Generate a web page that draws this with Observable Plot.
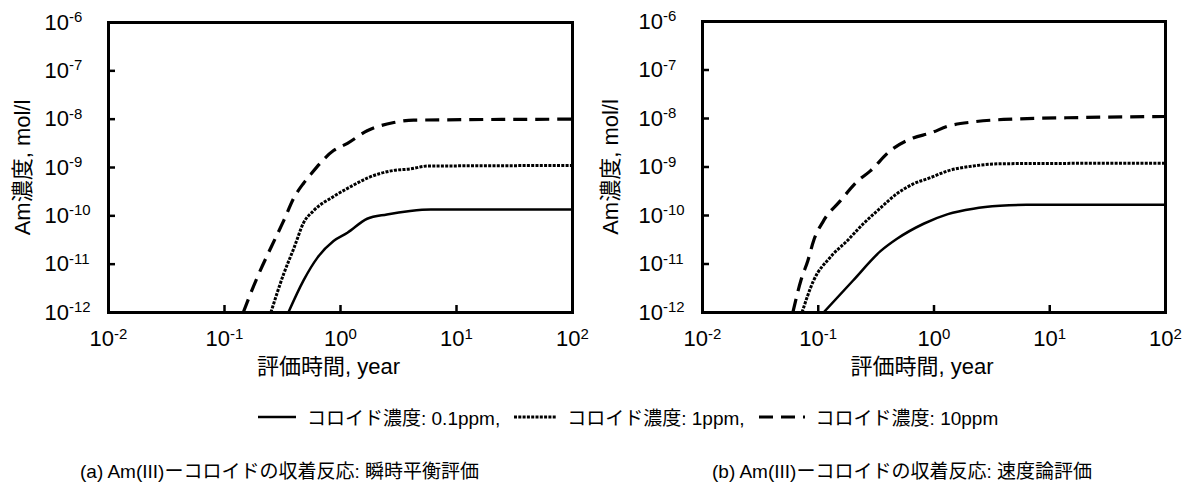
<!DOCTYPE html>
<html>
<head>
<meta charset="utf-8">
<script src="https://cdn.jsdelivr.net/npm/d3@7"></script>
<script src="https://cdn.jsdelivr.net/npm/@observablehq/plot@0.6"></script>
<style>
  html, body { margin: 0; padding: 0; background: #fff; }
  body { font-family: "Liberation Sans", "Noto Sans CJK JP", sans-serif; color: #000; }
  #wrap { position: relative; width: 1192px; height: 494px; overflow: hidden; }
  .panel { position: absolute; top: 0; }
  #legend { position: absolute; top: 403px; left: 258px; display: flex; align-items: center; font-size: 19px; white-space: nowrap; }
  #legend svg { display: block; }
  #legend .sw { margin-right: 11px; }
  #legend .lab { margin-right: 14px; }
  .cap { position: absolute; top: 456px; font-size: 19px; white-space: nowrap; }
</style>
</head>
<body>
<div id="wrap">
  <div id="panelA" class="panel" style="left:0"></div>
  <div id="panelB" class="panel" style="left:596px"></div>
  <div id="legend"></div>
  <div class="cap" id="capA" style="left:80px"></div>
  <div class="cap" id="capB" style="left:712px"></div>
</div>
<script>
// Axis ticks (decades)
const xTicks = [1e-2, 1e-1, 1e0, 1e1, 1e2];
const yTicks = [1e-12, 1e-11, 1e-10, 1e-9, 1e-8, 1e-7, 1e-6];

// Texts
const xTitle = "評価時間, year";
const yTitle = "Am濃度, mol/l";
const seriesNames = ["コロイド濃度: 0.1ppm,", "コロイド濃度: 1ppm,", "コロイド濃度: 10ppm"];
const captionA = "(a) Am(III)ーコロイドの収着反応: 瞬時平衡評価";
const captionB = "(b) Am(III)ーコロイドの収着反応: 速度論評価";

// (a) instantaneous equilibrium: time [year] and Am concentration [mol/l]
const timeA01 = [0.355, 0.479, 0.631, 0.871, 1.148, 1.698, 2.512, 3.981, 6.026, 100];
const concA01 = [1e-12, 4.57e-12, 1.35e-11, 3.02e-11, 4.47e-11, 8.71e-11, 1.07e-10, 1.26e-10, 1.35e-10, 1.35e-10];
const timeA1 = [0.251, 0.324, 0.398, 0.479, 0.589, 0.871, 1.259, 1.698, 2.884, 3.981, 5.623, 100];
const concA1 = [1e-12, 6.31e-12, 2.19e-11, 7.08e-11, 1.29e-10, 2.51e-10, 4.17e-10, 6.03e-10, 8.71e-10, 9.33e-10, 1.07e-9, 1.10e-9];
const timeA10 = [0.145, 0.191, 0.251, 0.324, 0.398, 0.479, 0.550, 0.871, 1.148, 1.698, 2.884, 4.266, 100];
const concA10 = [1e-12, 5.25e-12, 2.19e-11, 7.94e-11, 2.40e-10, 4.68e-10, 7.08e-10, 2.24e-9, 3.16e-9, 5.75e-9, 8.51e-9, 9.55e-9, 1.0e-8];

// (b) kinetic evaluation
const timeB01 = [0.111, 0.200, 0.347, 0.479, 0.813, 1.318, 2.188, 3.715, 6.310, 100];
const concB01 = [1e-12, 4.57e-12, 1.86e-11, 3.31e-11, 6.76e-11, 1.07e-10, 1.38e-10, 1.58e-10, 1.66e-10, 1.66e-10];
const timeB1 = [0.0724, 0.0912, 0.126, 0.178, 0.245, 0.347, 0.479, 0.661, 0.933, 1.318, 2.188, 3.981, 100];
const concB1 = [1e-12, 4.57e-12, 1.35e-11, 3.02e-11, 6.76e-11, 1.45e-10, 2.82e-10, 4.47e-10, 6.03e-10, 8.32e-10, 1.05e-9, 1.17e-9, 1.20e-9];
const timeB10 = [0.0603, 0.0708, 0.0813, 0.0912, 0.111, 0.155, 0.219, 0.282, 0.417, 0.661, 0.933, 1.318, 2.188, 3.981, 19.95, 100];
const concB10 = [1e-12, 4.57e-12, 1.17e-11, 3.02e-11, 7.76e-11, 2.0e-10, 5.13e-10, 8.32e-10, 2.14e-9, 3.98e-9, 5.01e-9, 6.92e-9, 8.51e-9, 9.55e-9, 1.05e-8, 1.10e-8];

// Line styles for the three colloid concentrations
const lineStyles = [
  {strokeWidth: 2.5, strokeDasharray: null},
  {strokeWidth: 3, strokeDasharray: "3,1.3"},
  {strokeWidth: 3.2, strokeDasharray: "14,8"}
];

const FONT = "'Liberation Sans', 'Noto Sans CJK JP', sans-serif";
const rows = (ts, cs) => ts.map((t, i) => ({t, c: cs[i]}));
const decade = d => "10^" + Math.round(Math.log10(d));

// Turn "10^n" tick labels into a base with a raised exponent
function superscripts(svg) {
  d3.select(svg).selectAll('g[aria-label$="tick label"] text').each(function () {
    const m = this.textContent.match(/^10\^(-?\d+)$/);
    if (!m) return;
    const t = d3.select(this);
    t.text(null);
    t.append("tspan").text("10");
    t.append("tspan").attr("dy", "-0.5em").attr("font-size", "0.68em").text(m[1]);
  });
}

function panel(series, {marginLeft, marginRight, marginTop, yTitleDx}) {
  const W = 596, H = 382, marginBottom = 70;
  const pw = W - marginLeft - marginRight;
  const ph = H - marginTop - marginBottom;
  const svg = Plot.plot({
    width: W, height: H, marginLeft, marginRight, marginTop, marginBottom,
    style: {fontFamily: FONT, fontSize: "22px", color: "#000", background: "#fff", overflow: "visible"},
    x: {type: "log", domain: [1e-2, 1e2]},
    y: {type: "log", domain: [1e-12, 1e-6]},
    marks: [
      ...series.map((s, i) => Plot.line(s, {x: "t", y: "c", stroke: "#000", clip: true, curve: "monotone-x",
        strokeWidth: lineStyles[i].strokeWidth, strokeDasharray: lineStyles[i].strokeDasharray,
        strokeLinecap: "butt", strokeLinejoin: "round"})),
      Plot.tickX(xTicks, {x: d => d, insetTop: ph - 7, stroke: "#000", strokeWidth: 2.5}),
      Plot.tickY(yTicks, {y: d => d, insetRight: pw - 7, stroke: "#000", strokeWidth: 2.5}),
      Plot.frame({stroke: "#000", strokeWidth: 3}),
      Plot.axisX(xTicks, {tickSize: 0, tickPadding: 18, tickFormat: decade, label: null}),
      Plot.axisY(yTicks, {tickSize: 0, tickPadding: 64, textAnchor: "start", tickFormat: decade, label: null}),
      Plot.text([xTitle], {text: d => d, frameAnchor: "bottom", textAnchor: "middle", lineAnchor: "middle",
        dy: 54, dx: -12, fontSize: 22}),
      Plot.text([yTitle], {text: d => d, frameAnchor: "left", textAnchor: "middle", lineAnchor: "middle",
        dx: yTitleDx, rotate: -90, fontSize: 22})
    ]
  });
  superscripts(svg);
  return svg;
}

document.getElementById("panelA").append(panel(
  [rows(timeA01, concA01), rows(timeA1, concA1), rows(timeA10, concA10)],
  {marginLeft: 108, marginRight: 24, marginTop: 22, yTitleDx: -86}
));
document.getElementById("panelB").append(panel(
  [rows(timeB01, concB01), rows(timeB1, concB1), rows(timeB10, concB10)],
  {marginLeft: 106, marginRight: 27, marginTop: 21, yTitleDx: -92}
));

// Legend: line swatch followed by its label
const legend = d3.select("#legend");
const swatchW = [38, 42, 46];
seriesNames.forEach((name, i) => {
  const sw = legend.append("svg").attr("class", "sw").attr("width", swatchW[i]).attr("height", 8);
  sw.append("line").attr("x1", 0).attr("x2", swatchW[i]).attr("y1", 4).attr("y2", 4)
    .attr("stroke", "#000").attr("stroke-width", lineStyles[i].strokeWidth)
    .attr("stroke-dasharray", lineStyles[i].strokeDasharray);
  legend.append("span").attr("class", "lab").text(name);
});

document.getElementById("capA").textContent = captionA;
document.getElementById("capB").textContent = captionB;
</script>
</body>
</html>
